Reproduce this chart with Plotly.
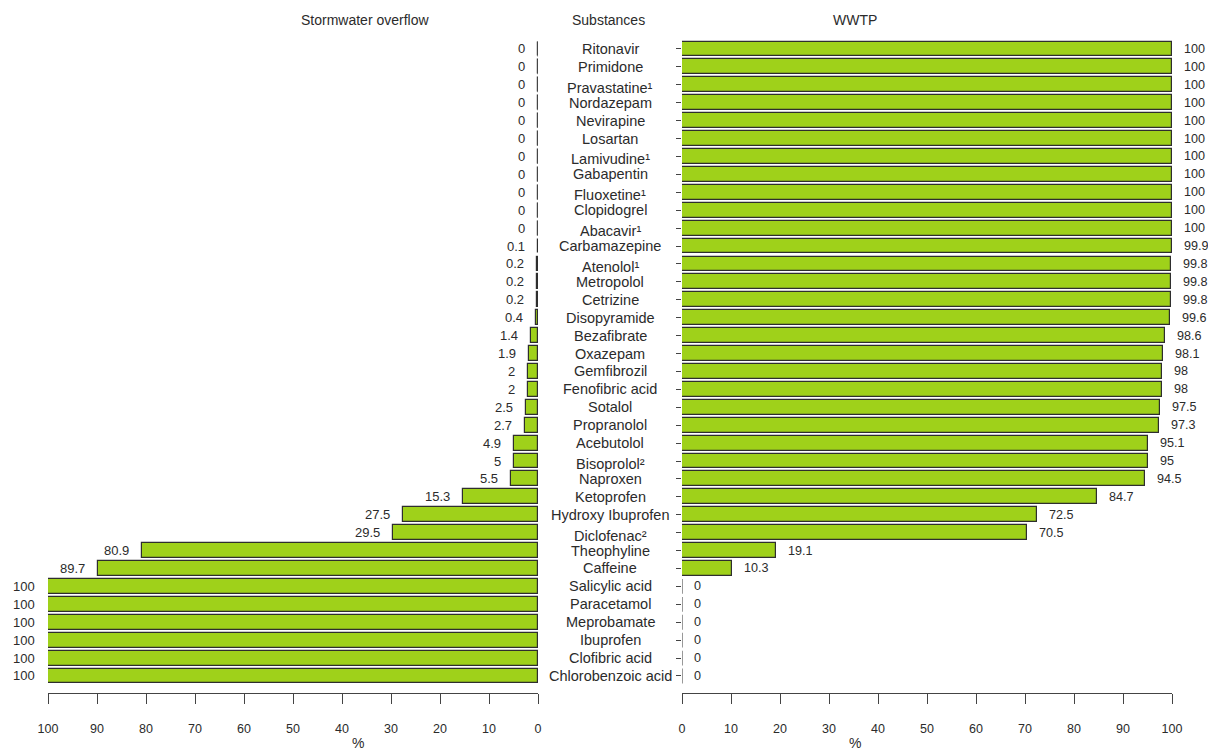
import plotly.graph_objects as go

substances = ["Ritonavir", "Primidone", "Pravastatine¹", "Nordazepam", "Nevirapine",
              "Losartan", "Lamivudine¹", "Gabapentin", "Fluoxetine¹", "Clopidogrel",
              "Abacavir¹", "Carbamazepine", "Atenolol¹", "Metropolol", "Cetrizine",
              "Disopyramide", "Bezafibrate", "Oxazepam", "Gemfibrozil", "Fenofibric acid",
              "Sotalol", "Propranolol", "Acebutolol", "Bisoprolol²", "Naproxen",
              "Ketoprofen", "Hydroxy Ibuprofen", "Diclofenac²", "Theophyline", "Caffeine",
              "Salicylic acid", "Paracetamol", "Meprobamate", "Ibuprofen", "Clofibric acid",
              "Chlorobenzoic acid"]
stormwater = [0, 0, 0, 0, 0, 0, 0, 0, 0, 0, 0, 0.1, 0.2, 0.2, 0.2, 0.4, 1.4, 1.9, 2, 2,
              2.5, 2.7, 4.9, 5, 5.5, 15.3, 27.5, 29.5, 80.9, 89.7, 100, 100, 100, 100, 100, 100]
wwtp = [100, 100, 100, 100, 100, 100, 100, 100, 100, 100, 100, 99.9, 99.8, 99.8, 99.8, 99.6,
        98.6, 98.1, 98, 98, 97.5, 97.3, 95.1, 95, 94.5, 84.7, 72.5, 70.5, 19.1, 10.3,
        0, 0, 0, 0, 0, 0]
x_ticks = [0, 10, 20, 30, 40, 50, 60, 70, 80, 90, 100]
titles = ["Stormwater overflow", "Substances", "WWTP"]

W, H = 1208, 752
FONT = "Liberation Sans, Arial, sans-serif"
TXT = "#2b2b2b"
FILL = "#9fd11a"
EDGE = "#2e2e2e"
idx = list(range(len(substances)))

def px_x(p):
    return p / W

def px_y(p):
    return 1 - p / H

fig = go.Figure()
fig.add_trace(go.Bar(x=stormwater, y=idx, orientation="h", width=0.83,
                     marker=dict(color=FILL, line=dict(color=EDGE, width=1.2)),
                     xaxis="x", yaxis="y", showlegend=False))
fig.add_trace(go.Bar(x=wwtp, y=idx, orientation="h", width=0.83,
                     marker=dict(color=FILL, line=dict(color=EDGE, width=1.2)),
                     xaxis="x2", yaxis="y2", showlegend=False))

# zero-length bars drawn as thin vertical strokes (as in the original)
def zero_segments(vals):
    xs, ys = [], []
    for i, v in enumerate(vals):
        if v == 0:
            xs += [0, 0, None]
            ys += [i - 0.415, i + 0.415, None]
    return xs, ys

zx, zy = zero_segments(stormwater)
fig.add_trace(go.Scatter(x=zx, y=zy, mode="lines", line=dict(color="#555555", width=1.2),
                         xaxis="x", yaxis="y", showlegend=False, hoverinfo="skip"))
zx, zy = zero_segments(wwtp)
fig.add_trace(go.Scatter(x=zx, y=zy, mode="lines", line=dict(color="#555555", width=1.2),
                         xaxis="x2", yaxis="y2", showlegend=False, hoverinfo="skip"))

ydom = [px_y(693), px_y(40)]
yrange = [35.95, -0.5]
axis_common = dict(showgrid=False, zeroline=False, showline=True, linecolor="#444444",
                   linewidth=1, ticks="outside", ticklen=10, tickcolor="#444444",
                   tickvals=x_ticks, ticklabelstandoff=14, automargin=False,
                   tickfont=dict(family=FONT, size=12.5, color=TXT))
fig.update_layout(
    width=W, height=H,
    margin=dict(l=0, r=0, t=0, b=0, pad=0, autoexpand=False),
    paper_bgcolor="white", plot_bgcolor="white",
    bargap=0,
    xaxis=dict(domain=[px_x(48), px_x(538)], range=[100, 0], anchor="y", **axis_common),
    xaxis2=dict(domain=[px_x(682), px_x(1172)], range=[0, 100], anchor="y2", **axis_common),
    yaxis=dict(domain=ydom, range=yrange, showticklabels=False, showgrid=False,
               zeroline=False, showline=False, anchor="x", automargin=False),
    yaxis2=dict(domain=ydom, range=yrange, showticklabels=False, showgrid=False,
                zeroline=False, showline=False, anchor="x2", ticks="outside",
                ticklen=5, tickcolor="#444444", tickvals=idx, automargin=False),
)

ann = []
for i, v in enumerate(stormwater):
    ann.append(dict(x=v, y=i, xref="x", yref="y", text=f"{v:g}", showarrow=False,
                    xanchor="right", xshift=-11, font=dict(family=FONT, size=13, color=TXT)))
for i, v in enumerate(wwtp):
    ann.append(dict(x=v, y=i, xref="x2", yref="y2", text=f"{v:g}", showarrow=False,
                    xanchor="left", xshift=10, font=dict(family=FONT, size=12.6, color=TXT)))
for i, s in enumerate(substances):
    sup = s[-1] in "¹²"
    ann.append(dict(x=px_x(610), y=i, xref="paper", yref="y2", text=s, showarrow=False,
                    xanchor="center", yshift=-3 if sup else 0,
                    font=dict(family=FONT, size=14.5, color=TXT)))
for t, xp in zip(titles, [365, 608, 855]):
    ann.append(dict(x=px_x(xp), y=px_y(20), xref="paper", yref="paper", text=t,
                    showarrow=False, xanchor="center", yanchor="middle",
                    font=dict(family=FONT, size=14, color=TXT)))
for xp in [358, 855]:
    ann.append(dict(x=px_x(xp), y=px_y(743), xref="paper", yref="paper", text="%",
                    showarrow=False, xanchor="center", yanchor="middle",
                    font=dict(family=FONT, size=14, color=TXT)))
fig.update_layout(annotations=ann)

# let the figure fill the window exactly (no default page margin, no scrollbars)
page_fix = ("document.body.style.margin='0';"
            "document.documentElement.style.overflow='hidden';"
            "document.body.style.overflow='hidden';")
fig.write_html("out.html", post_script=page_fix, config={"displayModeBar": False})
